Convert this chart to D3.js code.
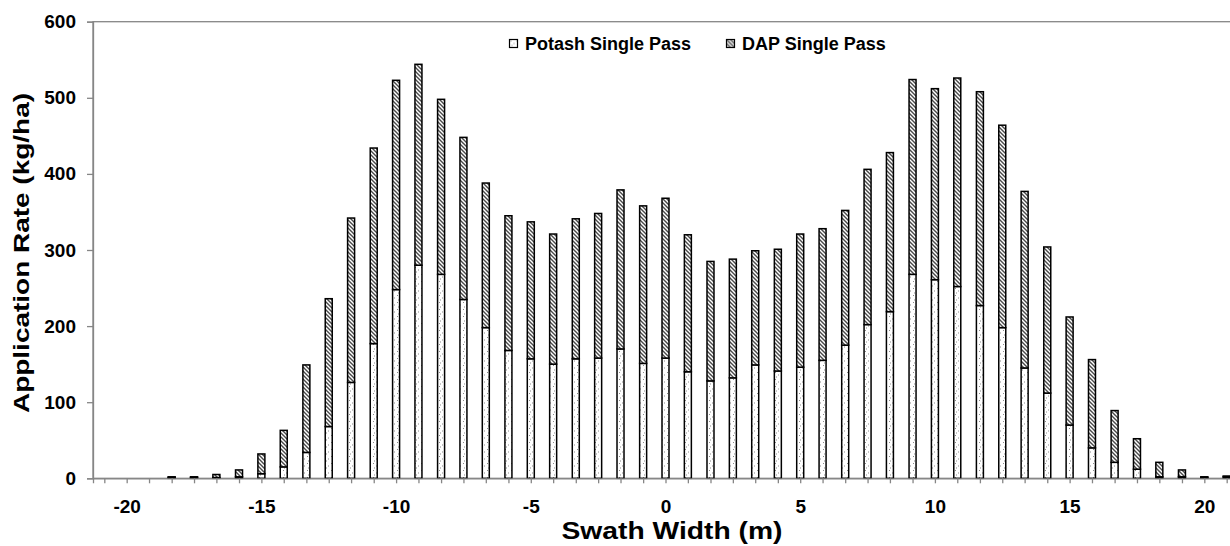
<!DOCTYPE html>
<html>
<head>
<meta charset="utf-8">
<script src="https://cdn.jsdelivr.net/npm/d3@7"></script>
<style>
  body { margin: 0; background: #fff; }
  text { font-family: "Liberation Sans", Arial, sans-serif; font-weight: bold; fill: #000; }
</style>
</head>
<body>
<div id="chart"></div>
<script>
// swath positions (m), one bar every 5/6 m
var swath = [-20.83, -20, -19.17, -18.33, -17.5, -16.67, -15.83, -15, -14.17, -13.33,
  -12.5, -11.67, -10.83, -10, -9.17, -8.33, -7.5, -6.67, -5.83, -5,
  -4.17, -3.33, -2.5, -1.67, -0.83, 0, 0.83, 1.67, 2.5, 3.33,
  4.17, 5, 5.83, 6.67, 7.5, 8.33, 9.17, 10, 10.83, 11.67,
  12.5, 13.33, 14.17, 15, 15.83, 16.67, 17.5, 18.33, 19.17, 20, 20.83];

// application rate (kg/ha) for each pass
var potash = [0, 0, 0, 1, 1, 1, 2, 6, 15, 34,
  68, 126, 177, 248, 280, 268, 235, 198, 168, 157,
  150, 157, 158, 170, 151, 158, 140, 128, 132, 149,
  141, 146, 155, 175, 202, 219, 268, 261, 252, 227,
  198, 145, 112, 70, 40, 21, 12, 2, 2, 1, 2];
var dap = [0, 0, 0, 1, 1, 4, 9, 26, 48, 115,
  168, 216, 257, 275, 264, 230, 213, 190, 177, 180,
  171, 184, 190, 209, 207, 210, 180, 157, 156, 150,
  160, 175, 173, 177, 204, 209, 256, 251, 274, 281,
  266, 232, 192, 142, 116, 68, 40, 19, 9, 1, 1];

var seriesNames = ["Potash Single Pass", "DAP Single Pass"];
var yTicks = [0, 100, 200, 300, 400, 500, 600];
var xLabels = [-20, -15, -10, -5, 0, 5, 10, 15, 20];

var svgWidth = 1230, svgHeight = 546;
var plotLeft = 93, plotRight = 1238, plotTop = 21.7, plotBottom = 478.3;
var axisGray = "#868686";

var svg = d3.select("#chart").append("svg")
  .attr("width", svgWidth)
  .attr("height", svgHeight);

// fill patterns
var defs = svg.append("defs");
var dots = defs.append("pattern")
  .attr("id", "dots")
  .attr("patternUnits", "userSpaceOnUse")
  .attr("width", 6).attr("height", 7);
dots.append("rect").attr("width", 6).attr("height", 7).attr("fill", "#fff");
[[1, 1], [4, 3.5], [2, 5.5]].forEach(function(p) {
  dots.append("rect").attr("x", p[0]).attr("y", p[1])
    .attr("width", 1).attr("height", 1).attr("fill", "#8a8a8a");
});

var hatch = defs.append("pattern")
  .attr("id", "hatch")
  .attr("patternUnits", "userSpaceOnUse")
  .attr("width", 4).attr("height", 4);
hatch.append("rect").attr("width", 4).attr("height", 4).attr("fill", "#fff");
hatch.append("path")
  .attr("d", "M-1,-1L5,5M-1,3L1,5M3,-1L5,1")
  .attr("stroke", "#4a4a4a")
  .attr("stroke-width", 1.4);

var fills = ["url(#dots)", "url(#hatch)"];

// scales
var x = d3.scaleLinear().domain([-21.25, 21.25]).range([plotLeft, plotRight]);
var y = d3.scaleLinear().domain([0, 600]).range([plotBottom, plotTop]);

// plot area border (top edge shows, right edge is cut off)
svg.append("rect")
  .attr("x", plotLeft).attr("y", plotTop)
  .attr("width", plotRight - plotLeft).attr("height", plotBottom - plotTop)
  .attr("fill", "none")
  .attr("stroke", axisGray)
  .attr("stroke-width", 1.3);

// stacked bars
var rows = swath.map(function(s, i) { return { pos: s, potash: potash[i], dap: dap[i] }; });
var stacked = d3.stack().keys(["potash", "dap"])(rows);
var barW = 7;

svg.selectAll(".layer")
  .data(stacked)
  .enter().append("g")
  .attr("class", "layer")
  .attr("fill", function(d, i) { return fills[i]; })
  .selectAll("rect")
  .data(function(d) { return d; })
  .enter().append("rect")
  .attr("x", function(d) { return x(d.data.pos) - barW / 2; })
  .attr("y", function(d) { return y(d[1]); })
  .attr("width", barW)
  .attr("height", function(d) { return y(d[0]) - y(d[1]); })
  .attr("stroke", "#000")
  .attr("stroke-width", 1.5);

// axes
var xAxis = d3.axisBottom(x)
  .tickValues(swath)
  .tickSize(5)
  .tickPadding(16)
  .tickFormat(function(d) { return xLabels.indexOf(d) >= 0 ? d : ""; });

var gx = svg.append("g")
  .attr("transform", "translate(0," + plotBottom + ")")
  .call(xAxis);
gx.select(".domain").attr("stroke", axisGray).attr("stroke-width", 1.3);
gx.selectAll(".tick line").attr("stroke", axisGray).attr("stroke-width", 1.3);
gx.selectAll("text").style("font-size", "19px").attr("fill", "#000");

var yAxis = d3.axisLeft(y)
  .tickValues(yTicks)
  .tickSize(6)
  .tickPadding(11);

var gy = svg.append("g")
  .attr("transform", "translate(" + plotLeft + ",0)")
  .call(yAxis);
gy.select(".domain").attr("stroke", axisGray).attr("stroke-width", 1.3);
gy.selectAll(".tick line").attr("stroke", axisGray).attr("stroke-width", 1.3);
gy.selectAll("text").style("font-size", "19px").attr("fill", "#000");

// axis titles
svg.append("text")
  .attr("x", 672)
  .attr("y", 539)
  .attr("text-anchor", "middle")
  .attr("textLength", 221)
  .attr("lengthAdjust", "spacingAndGlyphs")
  .style("font-size", "24px")
  .text("Swath Width (m)");

svg.append("text")
  .attr("transform", "translate(29,253) rotate(-90)")
  .attr("text-anchor", "middle")
  .attr("textLength", 320)
  .attr("lengthAdjust", "spacingAndGlyphs")
  .style("font-size", "22px")
  .text("Application Rate (kg/ha)");

// legend
var legendX = [509.5, 726.5];
var legend = svg.selectAll(".legend")
  .data(seriesNames)
  .enter().append("g")
  .attr("class", "legend")
  .attr("transform", function(d, i) { return "translate(" + legendX[i] + ",39.5)"; });

legend.append("rect")
  .attr("width", 8).attr("height", 8)
  .attr("fill", function(d, i) { return fills[i]; })
  .attr("stroke", "#000")
  .attr("stroke-width", 1.2);

legend.append("text")
  .attr("x", 15.5)
  .attr("y", 10.5)
  .style("font-size", "18px")
  .text(function(d) { return d; });
</script>
</body>
</html>
